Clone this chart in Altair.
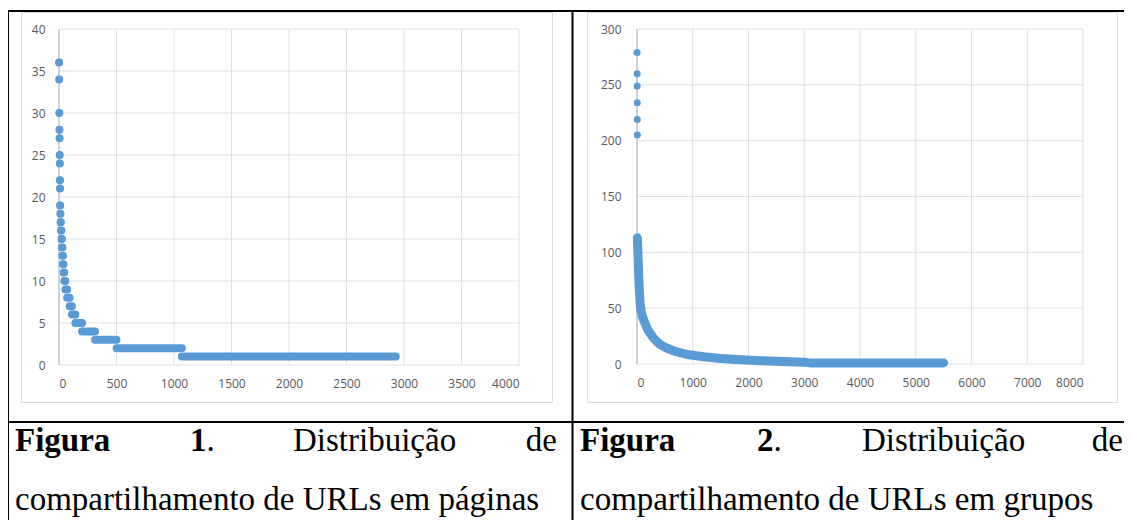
import altair as alt
import pandas as pd

# ---------------- data ----------------
# Figura 1: rank-ordered shares per URL in pages, as runs of equal counts
p1_count = [36, 34, 30, 28, 27, 25, 24, 22, 21, 19, 18, 17, 16, 15, 14, 13, 12, 11, 10, 9, 8, 7, 6, 5, 4, 3, 2, 1]
p1_first = [1, 2, 3, 4, 5, 6, 7, 8, 9, 10, 12, 14, 17, 22, 26, 30, 35, 40, 47, 56, 71, 93, 113, 143, 201, 314, 501, 1069]
p1_last = [1, 2, 3, 4, 5, 6, 7, 8, 9, 11, 13, 16, 21, 25, 29, 34, 39, 46, 55, 70, 92, 112, 142, 200, 313, 500, 1068, 2928]
p1_xticks = [0, 500, 1000, 1500, 2000, 2500, 3000, 3500, 4000]
p1_yticks = [0, 5, 10, 15, 20, 25, 30, 35, 40]

# Figura 2: rank-ordered shares per URL in groups
p2_top_rank = [1, 2, 3, 4, 5, 6]
p2_top_count = [279, 260, 249, 234, 219, 205]
p2_rank = [7, 12, 20, 30, 40, 55, 75, 100, 130, 200, 300, 400, 500, 700, 900, 1200, 1500, 1800, 2200, 2600, 3000, 3100, 5500]
p2_count = [113, 105, 95, 80, 68, 55, 47, 42, 38, 30, 23, 18, 15, 11, 8.5, 6.5, 5, 4, 3, 2.2, 1.5, 1, 1]
p2_xticks = [0, 1000, 2000, 3000, 4000, 5000, 6000, 7000, 8000]
p2_yticks = [0, 50, 100, 150, 200, 250, 300]

cap1_line1 = ["Figura", "1", ".", "Distribuição", "de"]
cap1_line2 = "compartilhamento de URLs em páginas"
cap2_line1 = ["Figura", "2", ".", "Distribuição", "de"]
cap2_line2 = "compartilhamento de URLs em grupos"

# ---------------- style ----------------
W, H = 1116, 512
BLUE = "#5b9bd5"
GRID = "#dde1e8"
AXIS = "#a7b4c9"
FRAME = "#d9dde4"
LABEL = "#595959"
ONE = alt.Data(values=[{}])
MSIZE = 50
MW = 8


def panel(x_dom, y_dom, x_rng, y_rng, xticks, yticks, ypad, runs=None, curve=None, tops=None):
    xs = alt.Scale(domain=x_dom, range=x_rng, nice=False, zero=False)
    ys = alt.Scale(domain=y_dom, range=y_rng, nice=False, zero=False)
    xaxis = alt.Axis(values=xticks, format="d", orient="bottom", offset=y_rng[0] - H,
                     domain=False, ticks=False, tickSize=0, grid=False, labelPadding=13,
                     labelFont="Open Sans", labelFontSize=12, labelColor=LABEL, title=None)
    yaxis = alt.Axis(values=yticks, format="d", orient="left", offset=-x_rng[0],
                     domain=False, ticks=False, tickSize=0, grid=False, labelPadding=ypad,
                     labelFont="Open Sans", labelFontSize=12, labelColor=LABEL, title=None)
    vgrid = alt.Chart(pd.DataFrame({"t": xticks})).mark_rule(color=GRID, strokeWidth=1).encode(
        x=alt.X("t:Q", scale=xs, axis=xaxis),
        y=alt.YDatum(y_dom[0], scale=ys, axis=yaxis),
        y2=alt.Y2Datum(y_dom[1]),
    )
    hgrid = alt.Chart(pd.DataFrame({"t": yticks})).mark_rule(color=GRID, strokeWidth=1).encode(
        y=alt.Y("t:Q", scale=ys, axis=yaxis),
        x=alt.XDatum(x_dom[0], scale=xs, axis=xaxis),
        x2=alt.X2Datum(x_dom[1]),
    )
    yline = alt.Chart(ONE).mark_rule(color=AXIS, strokeWidth=1).encode(
        x=alt.XDatum(x_dom[0], scale=xs, axis=xaxis),
        y=alt.YDatum(y_dom[0], scale=ys, axis=yaxis),
        y2=alt.Y2Datum(y_dom[1]),
    )
    layers = [vgrid, hgrid, yline]
    if runs is not None:
        base = alt.Chart(runs)
        layers.append(base.mark_rule(color=BLUE, strokeWidth=MW, strokeCap="round").encode(
            x=alt.X("first:Q", scale=xs, axis=xaxis), x2="last:Q",
            y=alt.Y("count:Q", scale=ys, axis=yaxis)))
        for col in ["first", "last"]:
            layers.append(base.mark_circle(color=BLUE, opacity=1, size=MSIZE).encode(
                x=alt.X(f"{col}:Q", scale=xs, axis=xaxis),
                y=alt.Y("count:Q", scale=ys, axis=yaxis)))
    if curve is not None:
        layers.append(alt.Chart(curve).mark_line(color=BLUE, strokeWidth=9, strokeCap="round",
                                                 strokeJoin="round").encode(
            x=alt.X("rank:Q", scale=xs, axis=xaxis),
            y=alt.Y("count:Q", scale=ys, axis=yaxis), order="rank:Q"))
    if tops is not None:
        layers.append(alt.Chart(tops).mark_circle(color=BLUE, opacity=1, size=MSIZE).encode(
            x=alt.X("rank:Q", scale=xs, axis=xaxis),
            y=alt.Y("count:Q", scale=ys, axis=yaxis)))
    return alt.layer(*layers)


runs1 = pd.DataFrame({"count": p1_count, "first": p1_first, "last": p1_last})
curve2 = pd.DataFrame({"rank": p2_rank, "count": p2_count})
tops2 = pd.DataFrame({"rank": p2_top_rank, "count": p2_top_count})

panel1 = panel([0, 4000], [0, 40], [51, 511], [357, 21], p1_xticks, p1_yticks, 14, runs=runs1)
panel2 = panel([0, 8000], [0, 300], [629, 1075], [356, 21], p2_xticks, p2_yticks, 16,
               curve=curve2, tops=tops2)


def frame(x1, x2, y1, y2):
    return alt.Chart(ONE).mark_rect(fill="transparent", stroke=FRAME, strokeWidth=1).encode(
        x=alt.value(x1), x2=alt.value(x2), y=alt.value(y1), y2=alt.value(y2))


def hline(y, x1, x2, w=2):
    return alt.Chart(ONE).mark_rule(color="black", strokeWidth=w).encode(
        y=alt.value(y), x=alt.value(x1), x2=alt.value(x2))


def vline(x, y1, y2, w=2):
    return alt.Chart(ONE).mark_rule(color="black", strokeWidth=w).encode(
        x=alt.value(x), y=alt.value(y1), y2=alt.value(y2))


deco = [
    frame(13.5, 544.5, 4.5, 394.5),
    frame(579.5, 1109.5, 4.5, 394.5),
    hline(3, 0, W),
    hline(414, 0, W),
    vline(0.5, 3, H, 1),
    vline(564.5, 3, H),
]


def txt(s, x, y, bold=False, align="left"):
    return alt.Chart(ONE).mark_text(font="Liberation Serif", fontSize=33,
                                    fontWeight="bold" if bold else "normal",
                                    align=align, baseline="alphabetic", color="black").encode(
        x=alt.value(x), y=alt.value(y), text=alt.value(s))


L1, L2 = 443, 502
caps = [
    txt(cap1_line1[0], 7, L1, True), txt(cap1_line1[1], 182, L1, True), txt(cap1_line1[2], 198.5, L1),
    txt(cap1_line1[3], 285, L1), txt(cap1_line1[4], 549, L1, align="right"),
    txt(cap1_line2, 7, L2),
    txt(cap2_line1[0], 572, L1, True), txt(cap2_line1[1], 749, L1, True), txt(cap2_line1[2], 765.5, L1),
    txt(cap2_line1[3], 854, L1), txt(cap2_line1[4], 1115, L1, align="right"),
    txt(cap2_line2, 572, L2),
]

chart = alt.layer(*deco, panel1, panel2, *caps).resolve_scale(
    x="independent", y="independent"
).properties(width=W, height=H, padding=0, autosize="none").configure_view(strokeWidth=0)

chart.save("out.html", embed_options={"renderer": "svg", "actions": False})
